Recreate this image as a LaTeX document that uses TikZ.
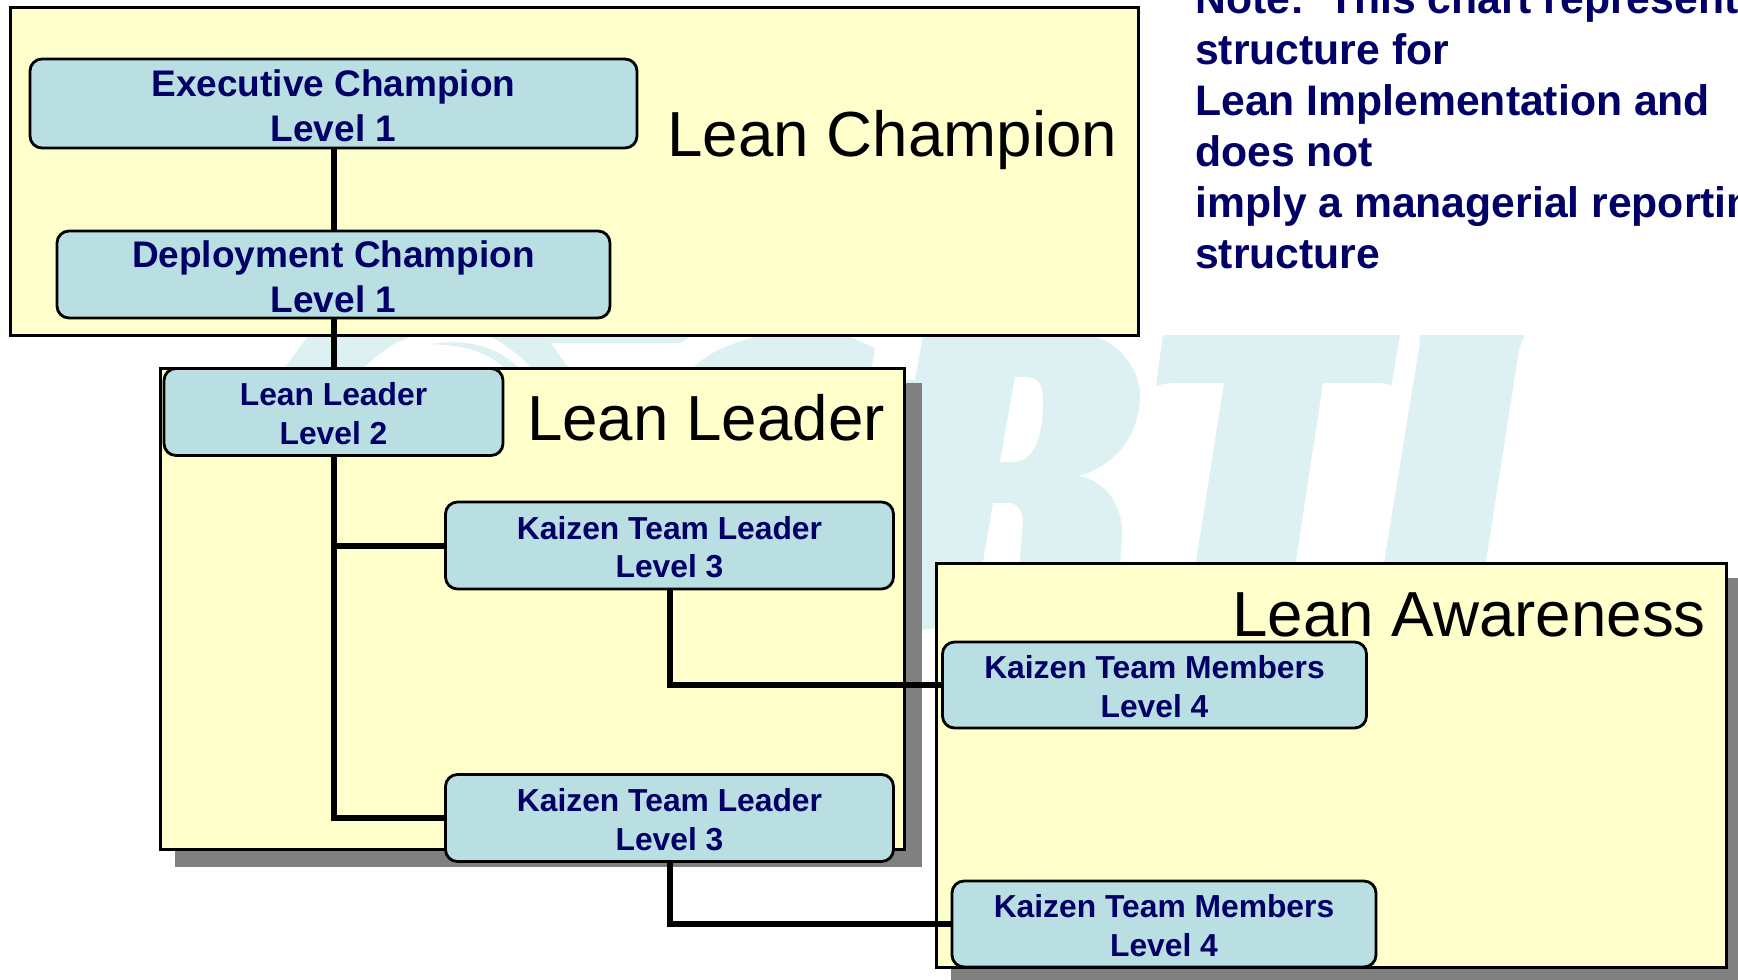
\documentclass[tikz,border=0pt]{standalone}
\usepackage{fontspec}
\setmainfont{Liberation Sans}
\definecolor{markcyan}{HTML}{DDF0F2}
\definecolor{panelyellow}{HTML}{FFFFCC}
\definecolor{boxcyan}{HTML}{B9DFE3}
\definecolor{inknavy}{HTML}{000066}
\definecolor{shadowgray}{HTML}{808080}
\newcommand{\bigrolelines}[2]{\rule{0pt}{31pt}#1\\#2}
\newcommand{\smallrolelines}[2]{\rule{0pt}{26pt}#1\\#2}
\tikzset{
  panel/.style={draw=black, fill=panelyellow, line width=3pt},
  shadow/.style={fill=shadowgray},
  link/.style={draw=black, line width=6pt},
  rolebox/.style={draw=black, fill=boxcyan, line width=2.8pt, rounded corners=12pt,
    outer sep=0pt, inner sep=0pt, align=center, text=inknavy},
  bigrole/.style={rolebox, font=\fontsize{37}{45}\selectfont\bfseries},
  smallrole/.style={rolebox, font=\fontsize{31.8}{38.5}\selectfont\bfseries},
  grouplabel/.style={anchor=base east, inner sep=0pt, text=black, font=\fontsize{63.7}{70}\selectfont},
  notetext/.style={anchor=north west, inner sep=0pt, align=left, text=inknavy,
    font=\fontsize{42.7}{51}\selectfont\bfseries},
}
\begin{document}
\begin{tikzpicture}[x=1pt, y=-1pt]
\clip (0, 0) rectangle (1738, 980);

\fill [markcyan] (308, 336) -- (1093, 336) .. controls (1125, 345) and (1140, 375) .. (1140, 395)
  .. controls (1140, 430) and (1120, 465) .. (1078, 476) .. controls (1105, 480) and (1123, 505) .. (1122, 535)
  -- (1118, 600) -- (922, 630) -- (880, 630) -- (285, 367) -- cycle;
\fill [white] (285, 367) -- (308, 336) -- (230, 336) -- (230, 367) -- cycle;
\fill [white] (365, 367) .. controls (380, 352) and (395, 342) .. (413, 336) -- (490, 336)
  .. controls (505, 345) and (520, 355) .. (530, 367) -- cycle;
\fill [markcyan] (430, 344) .. controls (465, 339) and (495, 345) .. (518, 367) -- (503, 367)
  .. controls (485, 350) and (460, 345) .. (430, 344) -- cycle;
\fill [white] (551, 343) -- (681, 343) -- (691, 336) -- (757, 336)
  .. controls (725, 345) and (705, 355) .. (694, 367) -- (568, 367) -- cycle;
\fill [white] (849, 336) -- (923, 336) -- (915, 380) -- (870, 380) -- (875, 348) -- cycle;
\fill [white] (1015, 377) -- (1027, 377) .. controls (1038, 378) and (1043, 385) .. (1043, 400)
  .. controls (1043, 435) and (1035, 462) .. (1013, 462) -- (1000, 462) -- cycle;
\fill [white] (993, 503) -- (1008, 503) .. controls (1018, 503) and (1023, 512) .. (1023, 522)
  -- (1018, 580) -- (980, 580) -- cycle;

\fill [markcyan] (1163, 335) -- (1400, 335) -- (1391.5, 385) .. controls (1385, 383) and (1380, 383) .. (1376, 383)
  -- (1323, 383) -- (1290, 600) -- (1190, 600) -- (1224, 383) -- (1176, 383)
  .. controls (1168, 383) and (1162, 384) .. (1156, 386) -- cycle;
\fill [markcyan] (1419, 335) -- (1525, 335) .. controls (1520, 345) and (1519, 350) .. (1518, 356)
  -- (1480, 600) -- (1378, 600) -- (1420, 342) -- cycle;

\fill [shadow] (175, 383) rectangle (922, 867);
\fill [shadow] (951, 578) rectangle (1740, 980);

\draw [panel] (10, 7) rectangle (1138, 335);
\draw [panel] (160.5, 368.5) rectangle (904, 849);
\draw [panel] (936, 563) rectangle (1726.5, 967);

\node [bigrole, minimum width=607pt, minimum height=89pt] (executive) at (333.5, 103.5) {\bigrolelines{Executive Champion}{Level 1}};
\node [bigrole, minimum width=553pt, minimum height=87pt] (deployment) at (333.5, 274.5) {\bigrolelines{Deployment Champion}{Level 1}};
\node [smallrole, minimum width=339pt, minimum height=87pt] (leanleader) at (333.5, 412) {\smallrolelines{Lean Leader}{Level 2}};
\node [smallrole, minimum width=448pt, minimum height=87pt] (kaizenone) at (669.5, 545.5) {\smallrolelines{Kaizen Team Leader}{Level 3}};
\node [smallrole, minimum width=448pt, minimum height=87pt] (kaizentwo) at (669.5, 818) {\smallrolelines{Kaizen Team Leader}{Level 3}};
\node [smallrole, minimum width=424pt, minimum height=86pt] (membersone) at (1154.5, 685) {\smallrolelines{Kaizen Team Members}{Level 4}};
\node [smallrole, minimum width=424pt, minimum height=86pt] (memberstwo) at (1164, 924) {\smallrolelines{Kaizen Team Members}{Level 4}};

\draw [link] (executive) -- (deployment);
\draw [link] (deployment) -- (leanleader);
\draw [link] (leanleader.south) |- (kaizenone.west);
\draw [link] (leanleader.south) |- (kaizentwo.west);
\draw [link] (kaizenone.south) |- (membersone.west);
\draw [link] (kaizentwo.south) |- (memberstwo.west);

\node [grouplabel] (championlabel) at (1117.5, 156) {Lean Champion};
\node [grouplabel] (leaderlabel) at (885, 440) {Lean Leader};
\node [grouplabel] (awarenesslabel) at (1706, 636) {Lean Awareness};

\node [notetext] (chartnote) at (1195, -18) {Note:\ \ This chart represents\\structure for\\Lean Implementation and\\does not\\imply a managerial reporting\\structure};
\end{tikzpicture}
\end{document}
